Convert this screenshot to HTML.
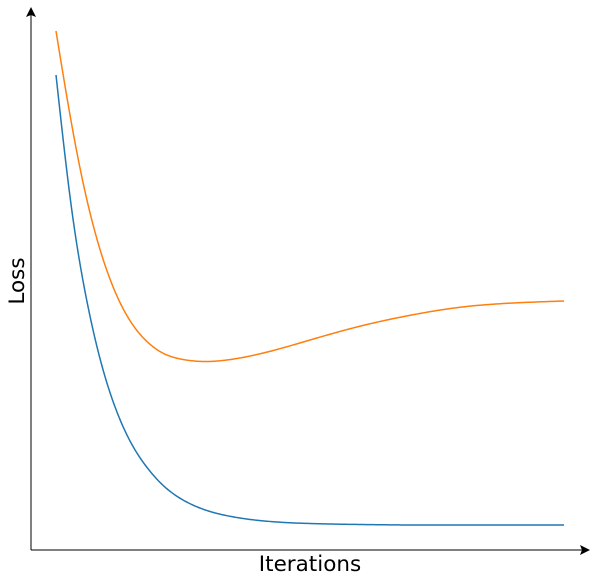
<!DOCTYPE html>
<html><head><meta charset="utf-8"><style>
html,body{margin:0;padding:0;background:#fff;}
svg{display:block;font-family:"DejaVu Sans","Liberation Sans",sans-serif;}
</style></head><body>
<svg id="chart" width="596" height="582" viewBox="0 0 596 582">
<line x1="31" y1="550" x2="584" y2="550" stroke="#000" stroke-width="1"/>
<polygon points="590,550 580,545 582,550 580,555" fill="#000"/>
<line x1="31" y1="550" x2="31" y2="14" stroke="#000" stroke-width="1"/>
<polygon points="31,7 26,17 31,15 36,17" fill="#000"/>
<text x="310" y="571" font-size="21.5" text-anchor="middle">Iterations</text>
<text x="0" y="0" font-size="21.5" text-anchor="middle" transform="translate(24,281) rotate(-90)">Loss</text>
<g id="series"></g>
</svg>
<script>
const iterations = [0,3,6,9,12,15,18,21,25,30,35,40,50,60,70,80,90,100];
const trainLoss = [4.75,3.44,2.51,1.85,1.38,1.05,0.82,0.65,0.50,0.39,0.33,0.295,0.265,0.255,0.25,0.25,0.25,0.25];
const valLoss = [5.19,4.28,3.52,2.95,2.54,2.26,2.08,1.97,1.905,1.885,1.91,1.96,2.10,2.24,2.35,2.43,2.47,2.49];
const xScale = v => 56 + v * 5.08;
const yScale = v => 550 - v * 100;
function splinePath(xs, ys){
  const n = xs.length, h = [], a = [], l = [1], mu = [0], z = [0], c = new Array(n).fill(0), b = [], d = [];
  for(let i=0;i<n-1;i++) h.push(xs[i+1]-xs[i]);
  for(let i=1;i<n-1;i++) a[i] = 3/h[i]*(ys[i+1]-ys[i]) - 3/h[i-1]*(ys[i]-ys[i-1]);
  for(let i=1;i<n-1;i++){ l[i]=2*(xs[i+1]-xs[i-1])-h[i-1]*mu[i-1]; mu[i]=h[i]/l[i]; z[i]=(a[i]-h[i-1]*z[i-1])/l[i]; }
  for(let j=n-2;j>=0;j--){ c[j]=(z[j]||0)-(mu[j]||0)*c[j+1]; b[j]=(ys[j+1]-ys[j])/h[j]-h[j]*(c[j+1]+2*c[j])/3; d[j]=(c[j+1]-c[j])/(3*h[j]); }
  let path = '';
  for(let j=0;j<n-1;j++){
    const steps = 20;
    for(let s=(j===0?0:1);s<=steps;s++){
      const t = h[j]*s/steps;
      const y = ys[j]+b[j]*t+c[j]*t*t+d[j]*t*t*t;
      path += (path?' L':'M') + xScale(xs[j]+t).toFixed(2) + ',' + yScale(y).toFixed(2);
    }
  }
  return path;
}
const g = document.getElementById('series');
const ns = 'http://www.w3.org/2000/svg';
const blue = document.createElementNS(ns,'path');
blue.setAttribute('d', splinePath(iterations, trainLoss));
blue.setAttribute('fill','none');
blue.setAttribute('stroke','#1f77b4');
blue.setAttribute('stroke-width','1.5');


g.appendChild(blue);
const orange = document.createElementNS(ns,'path');
orange.setAttribute('d', splinePath(iterations, valLoss));
orange.setAttribute('fill','none');
orange.setAttribute('stroke','#ff7f0e');
orange.setAttribute('stroke-width','1.5');


g.appendChild(orange);
</script>
</body></html>
